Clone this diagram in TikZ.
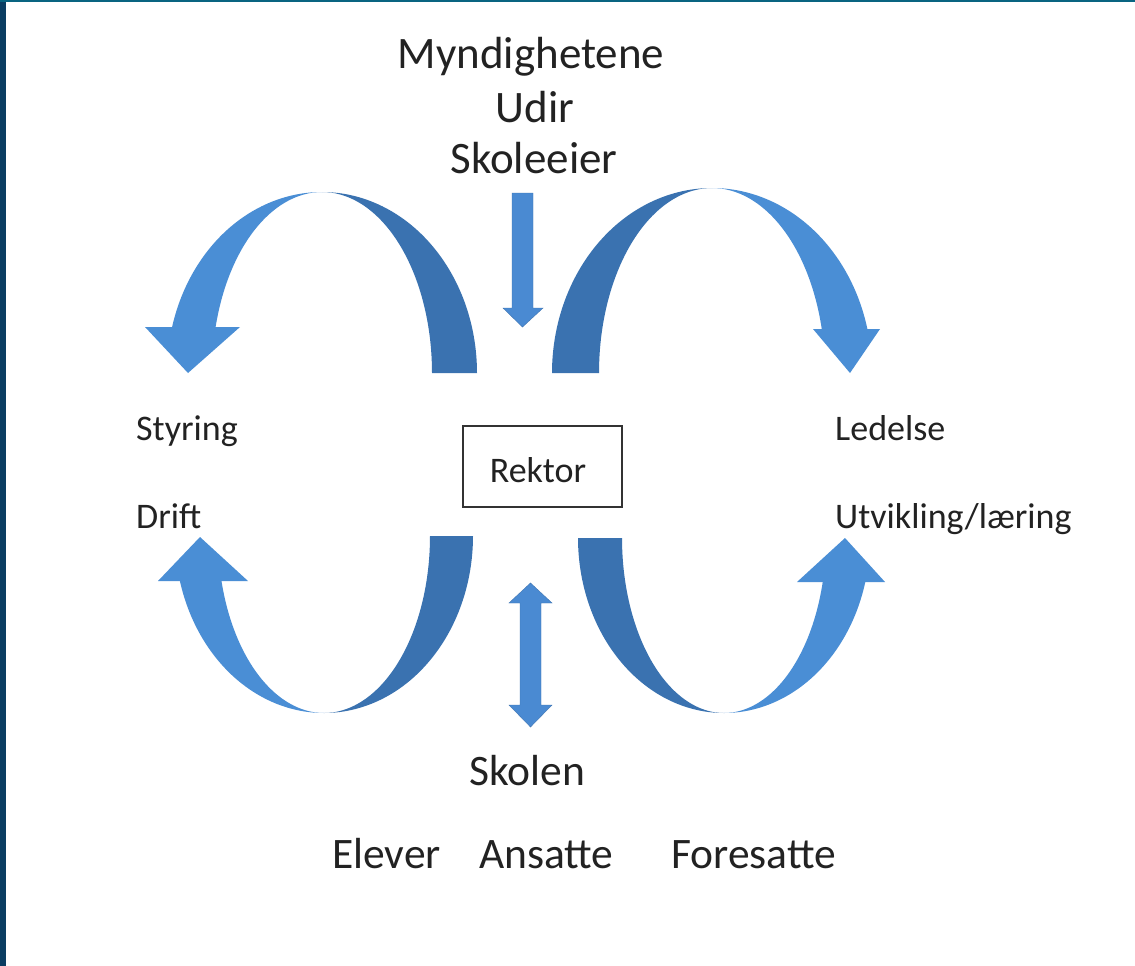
\documentclass[tikz,border=0pt]{standalone}
\usepackage{fontspec}
\setmainfont{Carlito}
\definecolor{arrlight}{HTML}{4A8ED5}
\definecolor{arrdark}{HTML}{3A72B0}
\definecolor{arrstraight}{HTML}{4A8AD2}
\definecolor{bordblue}{HTML}{0B3D62}
\definecolor{txt}{HTML}{222222}
\begin{document}
\begin{tikzpicture}[x=1pt,y=-1pt,
  big/.style={font=\fontsize{45}{54}\selectfont, text=txt, inner sep=0pt},
  bottomtxt/.style={font=\fontsize{43.5}{52}\selectfont, text=txt, inner sep=0pt},
  small/.style={font=\fontsize{36}{43}\selectfont, text=txt, inner sep=0pt},
  lightfill/.style={fill=arrlight},
  darkfill/.style={fill=arrdark},
  straightarrow/.style={fill=arrstraight, draw=arrstraight!85!black, line width=0.4pt}]
\useasboundingbox (0,0) rectangle (1135,966);
\fill[white] (0,0) rectangle (1135,966);
% frame
\fill[bordblue] (0,0) rectangle (6,966);
\fill[bordblue!80!cyan] (0,0) rectangle (1135,2.5);

% ---------- top-left curved arrow ----------
\fill[darkfill] plot[domain=90:0,samples=60] ({322+155*cos(\x)},{373-181*sin(\x)})
  -- plot[domain=0:90,samples=60] ({322+110*cos(\x)},{373-181*sin(\x)}) -- cycle;
\fill[lightfill] plot[domain=165.3:90,samples=60] ({322+155*cos(\x)},{373-181*sin(\x)})
  -- plot[domain=90:165.3,samples=60] ({322+110*cos(\x)},{373-181*sin(\x)}) -- cycle;
\fill[lightfill] (145,327) -- (240,327) -- (188,373) -- cycle;

% ---------- top-right curved arrow ----------
\fill[darkfill] plot[domain=180:90,samples=60] ({712+160*cos(\x)},{373-185*sin(\x)})
  -- plot[domain=90:180,samples=60] ({712+113*cos(\x)},{373-185*sin(\x)}) -- cycle;
\fill[lightfill] plot[domain=90:13.8,samples=60] ({712+160*cos(\x)},{373-185*sin(\x)})
  -- plot[domain=13.8:90,samples=60] ({712+113*cos(\x)},{373-185*sin(\x)}) -- cycle;
\fill[lightfill] (813,329) -- (880,329) -- (850,373) -- cycle;

% ---------- bottom-left curved arrow ----------
\fill[darkfill] plot[domain=0:90,samples=60] ({324+149*cos(\x)},{536+177*sin(\x)})
  -- plot[domain=90:0,samples=60] ({324+106*cos(\x)},{536+177*sin(\x)}) -- cycle;
\fill[lightfill] plot[domain=90:165.3,samples=60] ({324+149*cos(\x)},{536+177*sin(\x)})
  -- plot[domain=165.3:90,samples=60] ({324+106*cos(\x)},{536+177*sin(\x)}) -- cycle;
\fill[lightfill] (158,581) -- (248,581) -- (200,537) -- cycle;

% ---------- bottom-right curved arrow ----------
\fill[darkfill] plot[domain=180:90,samples=60] ({724+146*cos(\x)},{538+175*sin(\x)})
  -- plot[domain=90:180,samples=60] ({724+102*cos(\x)},{538+175*sin(\x)}) -- cycle;
\fill[lightfill] plot[domain=90:14.6,samples=60] ({724+146*cos(\x)},{538+175*sin(\x)})
  -- plot[domain=14.6:90,samples=60] ({724+102*cos(\x)},{538+175*sin(\x)}) -- cycle;
\fill[lightfill] (797,582) -- (885,582) -- (845,538) -- cycle;

% ---------- straight arrows ----------
\filldraw[straightarrow] (512,193) -- (533,193) -- (533,308) -- (543,308) -- (522.5,327)
  -- (503,308) -- (512,308) -- cycle;
\filldraw[straightarrow] (530.5,583) -- (552,603) -- (541,603) -- (541,705) -- (552,705)
  -- (530.5,727) -- (509,705) -- (520,705) -- (520,603) -- (509,603) -- cycle;

% ---------- texts ----------
\node[big, anchor=base] (myn) at (531,68) {Myndighetene};
\node[big, anchor=base] (udir) at (535,122) {Udir};
\node[big, anchor=base] (skoleeier) at (534,173) {Skoleeier};

\node[draw=black!80, line width=1.6pt, minimum width=159pt, minimum height=81pt,
      inner sep=0pt] (rektorbox) at (542.5,466.5) {};
\node[small, anchor=base] (rektor) at (538,482) {Rektor};

\node[small, anchor=base west] (styring) at (136,440) {Styring};
\node[small, anchor=base west] (drift) at (136,528) {Drift};
\node[small, anchor=base west] (ledelse) at (835,440) {Ledelse};
\node[small, anchor=base west] (utvikling) at (835,528) {Utvikling/læring};

\node[bottomtxt, anchor=base] (skolen) at (527,785) {Skolen};
\node[bottomtxt, anchor=base west] (elever) at (332,868) {Elever};
\node[bottomtxt, anchor=base west] (ansatte) at (479,868) {Ansatte};
\node[bottomtxt, anchor=base west] (foresatte) at (671,868) {Foresatte};
\end{tikzpicture}
\end{document}
